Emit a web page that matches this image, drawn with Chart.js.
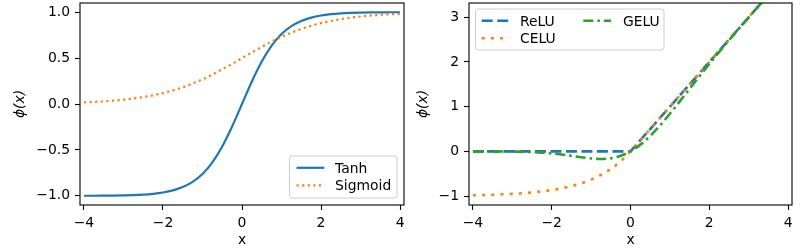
<!DOCTYPE html>
<html><head><meta charset="utf-8">
<script src="https://cdn.jsdelivr.net/npm/chart.js@4.4.1/dist/chart.umd.min.js"></script>
<style>
html,body{margin:0;padding:0;background:#fff;width:800px;height:250px;overflow:hidden}
canvas{position:absolute;top:0}
#c1{left:0}
#c2{left:400px}
</style></head><body>
<canvas id="c1" width="410" height="250"></canvas>
<canvas id="c2" width="400" height="250"></canvas>
<script>
// ---- data ----
const xs = [-4,-3.75,-3.5,-3.25,-3,-2.75,-2.5,-2.25,-2,-1.75,-1.5,-1.25,-1,-0.75,-0.5,-0.25,0,
            0.25,0.5,0.75,1,1.25,1.5,1.75,2,2.25,2.5,2.75,3,3.25,3.5,3.75,4];
const tanhY = [-0.999,-0.999,-0.998,-0.997,-0.995,-0.992,-0.987,-0.978,-0.964,-0.941,-0.905,-0.848,-0.762,-0.635,-0.462,-0.245,0,
               0.245,0.462,0.635,0.762,0.848,0.905,0.941,0.964,0.978,0.987,0.992,0.995,0.997,0.998,0.999,0.999];
const sigmoidY = [0.018,0.023,0.029,0.037,0.047,0.060,0.076,0.095,0.119,0.148,0.182,0.223,0.269,0.321,0.378,0.438,0.5,
                  0.562,0.622,0.679,0.731,0.777,0.818,0.852,0.881,0.905,0.924,0.940,0.953,0.963,0.971,0.977,0.982];
const reluX = [-4,0,4];
const reluY = [0,0,4];
const celuY = [-0.982,-0.976,-0.970,-0.961,-0.950,-0.936,-0.918,-0.895,-0.865,-0.826,-0.777,-0.713,-0.632,-0.528,-0.393,-0.221,0,
               0.25,0.5,0.75,1,1.25,1.5,1.75,2,2.25,2.5,2.75,3,3.25,3.5,3.75,4];
const geluY = [-0.0001,-0.0003,-0.0008,-0.0019,-0.004,-0.008,-0.016,-0.028,-0.046,-0.070,-0.100,-0.132,-0.159,-0.170,-0.154,-0.099,0,
               0.151,0.346,0.580,0.841,1.118,1.400,1.680,1.955,2.223,2.485,2.742,2.996,3.248,3.499,3.750,4.000];
const xTicks = [-4,-2,0,2,4];
const yTicksLeft = [-1,-0.5,0,0.5,1];
const yTicksRight = [-1,0,1,2,3];

// ---- styling ----
const BLUE='#1f77b4', ORANGE='#ff7f0e', GREEN='#2ca02c';
const FONT='"DejaVu Sans", sans-serif';
Chart.defaults.font.family = FONT;
Chart.defaults.font.size = 13.9;
Chart.defaults.color = '#000';

const pts = (xa, ya) => xa.map((x,i)=>({x, y: ya[i]}));
const minus = s => String(s).replace('-', '\u2212');

const framePlugin = {
  id:'frame',
  afterDatasetsDraw(chart){
    const {ctx, chartArea:a} = chart;
    ctx.save();
    ctx.strokeStyle='#000'; ctx.lineWidth=1.1; ctx.setLineDash([]);
    ctx.strokeRect(a.left, a.top, a.right-a.left, a.bottom-a.top);
    ctx.restore();
  }
};
const legendPlugin = {
  id:'boxLegend',
  afterDraw(chart, args, o){
    if(!o || !o.items) return;
    const ctx = chart.ctx;
    ctx.save();
    const r=2.8;
    ctx.beginPath();
    ctx.roundRect(o.x, o.y, o.w, o.h, r);
    ctx.fillStyle='rgba(255,255,255,0.8)'; ctx.fill();
    ctx.strokeStyle='#cccccc'; ctx.lineWidth=1; ctx.stroke();
    o.items.forEach(it=>{
      const ds = chart.data.datasets[it.i];
      ctx.beginPath();
      ctx.setLineDash(ds.borderDash||[]);
      ctx.lineDashOffset = 0;
      ctx.lineCap='butt';
      ctx.lineWidth=ds.borderWidth; ctx.strokeStyle=ds.borderColor;
      ctx.moveTo(it.hx, it.hy); ctx.lineTo(it.hx+27.8, it.hy); ctx.stroke();
      ctx.setLineDash([]);
      ctx.fillStyle='#000'; ctx.font='13.9px '+FONT; ctx.textBaseline='alphabetic'; ctx.textAlign='left';
      ctx.fillText(ds.label, it.tx, it.hy+5);
    });
    ctx.restore();
  }
};

function axisCommon(){
  return {
    grid:{drawOnChartArea:false, drawTicks:true, tickLength:5, tickColor:'#000', tickWidth:1.1},
    border:{display:false}
  };
}
function makeOptions(cfg){
  return {
    responsive:false, animation:false, devicePixelRatio:1,
    layout:{padding:{left:0, right:cfg.padRight, top:3, bottom:0}},
    plugins:{legend:{display:false}, tooltip:{enabled:false}, boxLegend:cfg.legend},
    scales:{
      x:Object.assign(axisCommon(), {
        type:'linear', min:-4.1, max:4.1,
        afterBuildTicks:s=>{ s.ticks = xTicks.map(v=>({value:v})); },
        afterFit:s=>{ s.height = 45; s.paddingLeft = 0; s.paddingRight = 0; },
        ticks:{padding:5.5, maxRotation:0, autoSkip:false, callback:v=>minus(v)},
        title:{display:true, text:'x', padding:{top:0, bottom:1}}
      }),
      y:Object.assign(axisCommon(), {
        type:'linear', min:cfg.ymin, max:cfg.ymax,
        afterBuildTicks:s=>{ s.ticks = cfg.yTicks.map(v=>({value:v})); },
        afterFit:s=>{ s.width = cfg.yWidth; s.paddingTop = 0; s.paddingBottom = 0; },
        ticks:{padding:5, autoSkip:false, callback:cfg.yFmt},
        title:{display:true, text:'\u03d5(x)', font:{style:'italic'}, padding:{top:cfg.titlePad, bottom:0}}
      })
    }
  };
}
const lineDs = (label, data, color, width, dash, order, mode) => ({
  label, data, borderColor:color, backgroundColor:color, borderWidth:width, borderDash:dash,
  borderCapStyle:'butt', showLine:true, pointRadius:0, pointHoverRadius:0, fill:false,
  cubicInterpolationMode: mode||'monotone', tension:0, clip:0, order
});

new Chart(document.getElementById('c1'), {
  type:'scatter',
  data:{datasets:[
    lineDs('Tanh', pts(xs, tanhY), BLUE, 2.2, [], 2),
    lineDs('Sigmoid', pts(xs, sigmoidY), ORANGE, 2.2, [2.2, 3.4], 1)
  ]},
  options:makeOptions({padRight:6, ymin:-1.1, ymax:1.1, yTicks:yTicksLeft, yWidth:80, titlePad:12.5,
    yFmt:v=>minus(Number(v).toFixed(1)),
    legend:{x:289.5, y:156, w:107.5, h:42, items:[
      {i:0, hx:296.5, hy:167.8, tx:335},
      {i:1, hx:296.5, hy:185.3, tx:335}
    ]}}),
  plugins:[framePlugin, legendPlugin]
});

new Chart(document.getElementById('c2'), {
  type:'scatter',
  data:{datasets:[
    lineDs('ReLU', pts(reluX, reluY), BLUE, 2.6, [11, 4.5], 3, 'default'),
    lineDs('CELU', pts(xs, celuY), ORANGE, 2.6, [3, 6.2], 2),
    lineDs('GELU', pts(xs, geluY), GREEN, 2.6, [10, 4, 2.6, 4], 1)
  ]},
  options:makeOptions({padRight:8, ymin:-1.2, ymax:3.32, yTicks:yTicksRight, yWidth:69, titlePad:15.5,
    yFmt:v=>minus(v),
    legend:{x:75.5, y:9, w:188.5, h:41, items:[
      {i:0, hx:81.7, hy:20.7, tx:120},
      {i:1, hx:81.7, hy:38.3, tx:120},
      {i:2, hx:183.3, hy:20.7, tx:223}
    ]}}),
  plugins:[framePlugin, legendPlugin]
});
</script>
</body></html>
